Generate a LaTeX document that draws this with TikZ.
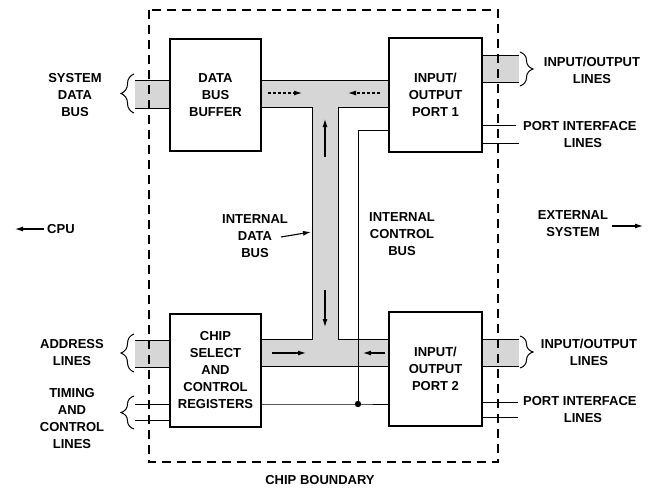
\documentclass[tikz,border=0pt]{standalone}
\usepackage{fontspec}
\setmainfont{Liberation Sans}
\usetikzlibrary{decorations.pathreplacing,arrows.meta}
\definecolor{busgray}{RGB}{214,214,214}
\begin{document}
\begin{tikzpicture}[x=1pt,y=-1pt,
  font=\fontsize{13}{17}\selectfont\bfseries,
  box/.style={draw, line width=1.1pt, fill=white, minimum width=91pt, minimum height=112pt, align=center, inner sep=0pt},
  lbl/.style={align=center, inner sep=0pt},
  edge/.style={line width=1pt},
  flow/.style={-{Latex[length=8pt,width=5pt]}, line width=1.1pt},
  dflow/.style={flow, densely dashed},
  bracer/.style={decorate, decoration={brace, amplitude=13pt}, line width=1pt},
  boundary/.style={line width=1.1pt, dash pattern=on 9pt off 6pt}]
\useasboundingbox (0,0) rectangle (656,490);

% gray bus bands
\fill[busgray] (135,80) rectangle (170,108);
\fill[busgray] (135,340) rectangle (170,367);
\fill[busgray] (482,55) rectangle (519,82);
\fill[busgray] (482,339) rectangle (519,366);
\fill[busgray] (261,80) -- (389,80) -- (389,107) -- (338,107) -- (338,339) -- (389,339)
  -- (389,366) -- (261,366) -- (261,339) -- (312,339) -- (312,107) -- (261,107) -- cycle;

% boxes
\node[box] (dbb) at (215.5,95) {DATA\\BUS\\BUFFER};
\node[box, minimum width=93pt, minimum height=114pt] (p1) at (435.5,95) {INPUT/\\OUTPUT\\PORT 1};
\node[box, minimum height=113pt] (cs) at (215.5,370.5) {CHIP\\SELECT\\AND\\CONTROL\\REGISTERS};
\node[box, minimum width=93pt, minimum height=114pt] (p2) at (435.5,369) {INPUT/\\OUTPUT\\PORT 2};

% band outlines
\draw[edge] (135,80) -- (dbb.west |- 0,80);
\draw[edge] (135,108) -- (dbb.west |- 0,108);
\draw[edge] (135,340) -- (cs.west |- 0,340);
\draw[edge] (135,367) -- (cs.west |- 0,367);
\draw[edge] (p1.east |- 0,55) -- (519,55);
\draw[edge] (p1.east |- 0,82) -- (519,82);
\draw[edge] (p2.east |- 0,339) -- (519,339);
\draw[edge] (p2.east |- 0,366) -- (519,366);
\draw[edge] (dbb.east |- 0,80) -- (p1.west |- 0,80);
\draw[edge] (dbb.east |- 0,107) -- (312,107) -- (312,339) -- (cs.east |- 0,339);
\draw[edge] (p1.west |- 0,107) -- (338,107) -- (338,339) -- (p2.west |- 0,339);
\draw[edge] (cs.east |- 0,366) -- (p2.west |- 0,366);

% timing and control lines
\draw[edge] (135,404) -- (cs.west |- 0,404);
\draw[edge] (135,420) -- (cs.west |- 0,420);

% internal control bus
\coordinate (jn) at (358,404);
\coordinate (cb) at (358,130);
\draw[edge] (cs.east |- jn) -- (jn) -- (p2.west |- jn);
\draw[edge] (jn) -- (cb) -- (p1.west |- cb);
\fill (jn) circle (3.2pt);

% port interface lines
\draw[edge] (p1.east |- 0,125) -- (516,125);
\draw[edge] (p1.east |- 0,143) -- (519,143);
\draw[edge] (p2.east |- 0,402) -- (518,402);
\draw[edge] (p2.east |- 0,417) -- (518,417);

% chip boundary
\draw[boundary] (149,10) rectangle (498,462);

% braces
\draw[bracer] (134,113) -- (134,74);
\draw[bracer] (134,372) -- (134,334);
\draw[bracer] (134,429) -- (134,396);
\draw[bracer] (520,52) -- (520,86);
\draw[bracer] (520,336) -- (520,368);

% flow arrows
\draw[dflow] (268,93) -- (302,93);
\draw[dflow] (380,93) -- (348,93);
\draw[flow] (325,157) -- (325,119);
\draw[flow] (325,290) -- (325,327);
\draw[flow] (272,353) -- (306,353);
\draw[flow] (385,353) -- (363,353);

% labels
\node[lbl] (sdb) at (75,95) {SYSTEM\\DATA\\BUS};
\node[lbl, anchor=west] (cpu) at (47,229) {CPU};
\coordinate (cpuend) at (15,229);
\draw[flow] ([xshift=-3pt]cpu.west) -- (cpuend);
\node[lbl] (addr) at (72,353) {ADDRESS\\LINES};
\node[lbl] (tcl) at (72,418.5) {TIMING\\AND\\CONTROL\\LINES};
\node[lbl] (idb) at (255,236) {INTERNAL\\DATA\\BUS};
\coordinate (idbtip) at (311,232);
\draw[flow] (281,237) -- (idbtip);
\node[lbl] (icb) at (402,234) {INTERNAL\\CONTROL\\BUS};
\node[lbl] (ext) at (573,223.5) {EXTERNAL\\SYSTEM};
\coordinate (extend) at (643,226);
\draw[flow] ([xshift=4pt]ext.east |- extend) -- (extend);
\node[lbl] (io1) at (592,70) {INPUT/OUTPUT\\LINES};
\node[lbl, anchor=west] (pi1) at (523,126) {PORT INTERFACE};
\node[lbl] (pi1l) at (583,143) {LINES};
\node[lbl] (io2) at (589,352) {INPUT/OUTPUT\\LINES};
\node[lbl, anchor=west] (pi2) at (523,401) {PORT INTERFACE};
\node[lbl] (pi2l) at (583,418) {LINES};
\node[lbl] (cbnd) at (320,480) {CHIP BOUNDARY};
\end{tikzpicture}
\end{document}
